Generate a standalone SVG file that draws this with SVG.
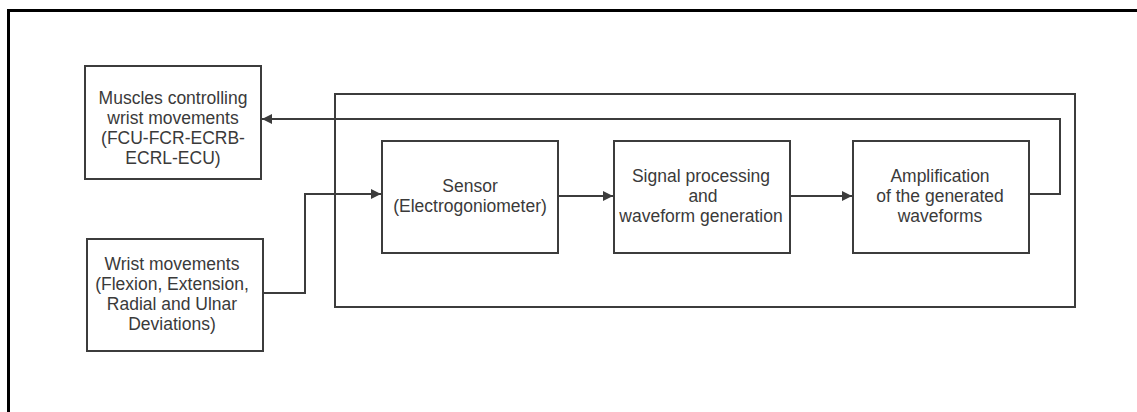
<svg xmlns="http://www.w3.org/2000/svg" width="1137" height="412" viewBox="0 0 1137 412">
<style>
.box{fill:#fff;stroke:#3c3c3c;stroke-width:2}
.lbl{font-family:"Liberation Sans",Arial,sans-serif;font-size:17.5px;fill:#3a3a3a;text-anchor:middle}
.con{fill:none;stroke:#3c3c3c;stroke-width:2}
</style>
<defs>
<marker id="arr" viewBox="0 0 10 10" refX="10" refY="5" markerWidth="10" markerHeight="10" markerUnits="userSpaceOnUse" orient="auto">
<path d="M0,0 L10,5 L0,10 z" fill="#3c3c3c"/>
</marker>
</defs>
<rect width="1137" height="412" fill="#fff"/>
<path d="M8.5,412 V10.5 H1137" fill="none" stroke="#000" stroke-width="3"/>
<g id="system"><rect class="box" x="335" y="94" width="740" height="213"/></g>
<g id="muscles">
<rect class="box" x="85" y="66" width="176" height="113"/>
<text class="lbl" x="173" y="104">Muscles controlling</text>
<text class="lbl" x="173" y="124">wrist movements</text>
<text class="lbl" x="173" y="144">(FCU-FCR-ECRB-</text>
<text class="lbl" x="173" y="164">ECRL-ECU)</text>
</g>
<g id="wrist">
<rect class="box" x="87" y="239" width="176" height="112"/>
<text class="lbl" x="172" y="270">Wrist movements</text>
<text class="lbl" x="172" y="290">(Flexion, Extension,</text>
<text class="lbl" x="172" y="310">Radial and Ulnar</text>
<text class="lbl" x="172" y="330">Deviations)</text>
</g>
<g id="sensor">
<rect class="box" x="382" y="141" width="176" height="112"/>
<text class="lbl" x="470" y="192">Sensor</text>
<text class="lbl" x="470" y="212">(Electrogoniometer)</text>
</g>
<g id="signal">
<rect class="box" x="614" y="141" width="176" height="112"/>
<text class="lbl" x="701" y="182">Signal processing</text>
<text class="lbl" x="703" y="202">and</text>
<text class="lbl" x="701" y="222">waveform generation</text>
</g>
<g id="amp">
<rect class="box" x="853" y="141" width="176" height="112"/>
<text class="lbl" x="940" y="182">Amplification</text>
<text class="lbl" x="940" y="202">of the generated</text>
<text class="lbl" x="940" y="222">waveforms</text>
</g>
<g id="connectors">
<path class="con" d="M263,293 H305 V194 H381" marker-end="url(#arr)"/>
<path class="con" d="M558,196 H613" marker-end="url(#arr)"/>
<path class="con" d="M790,196 H852" marker-end="url(#arr)"/>
<path class="con" d="M1029,194 H1060 V119 H262" marker-end="url(#arr)"/>
</g>
</svg>
